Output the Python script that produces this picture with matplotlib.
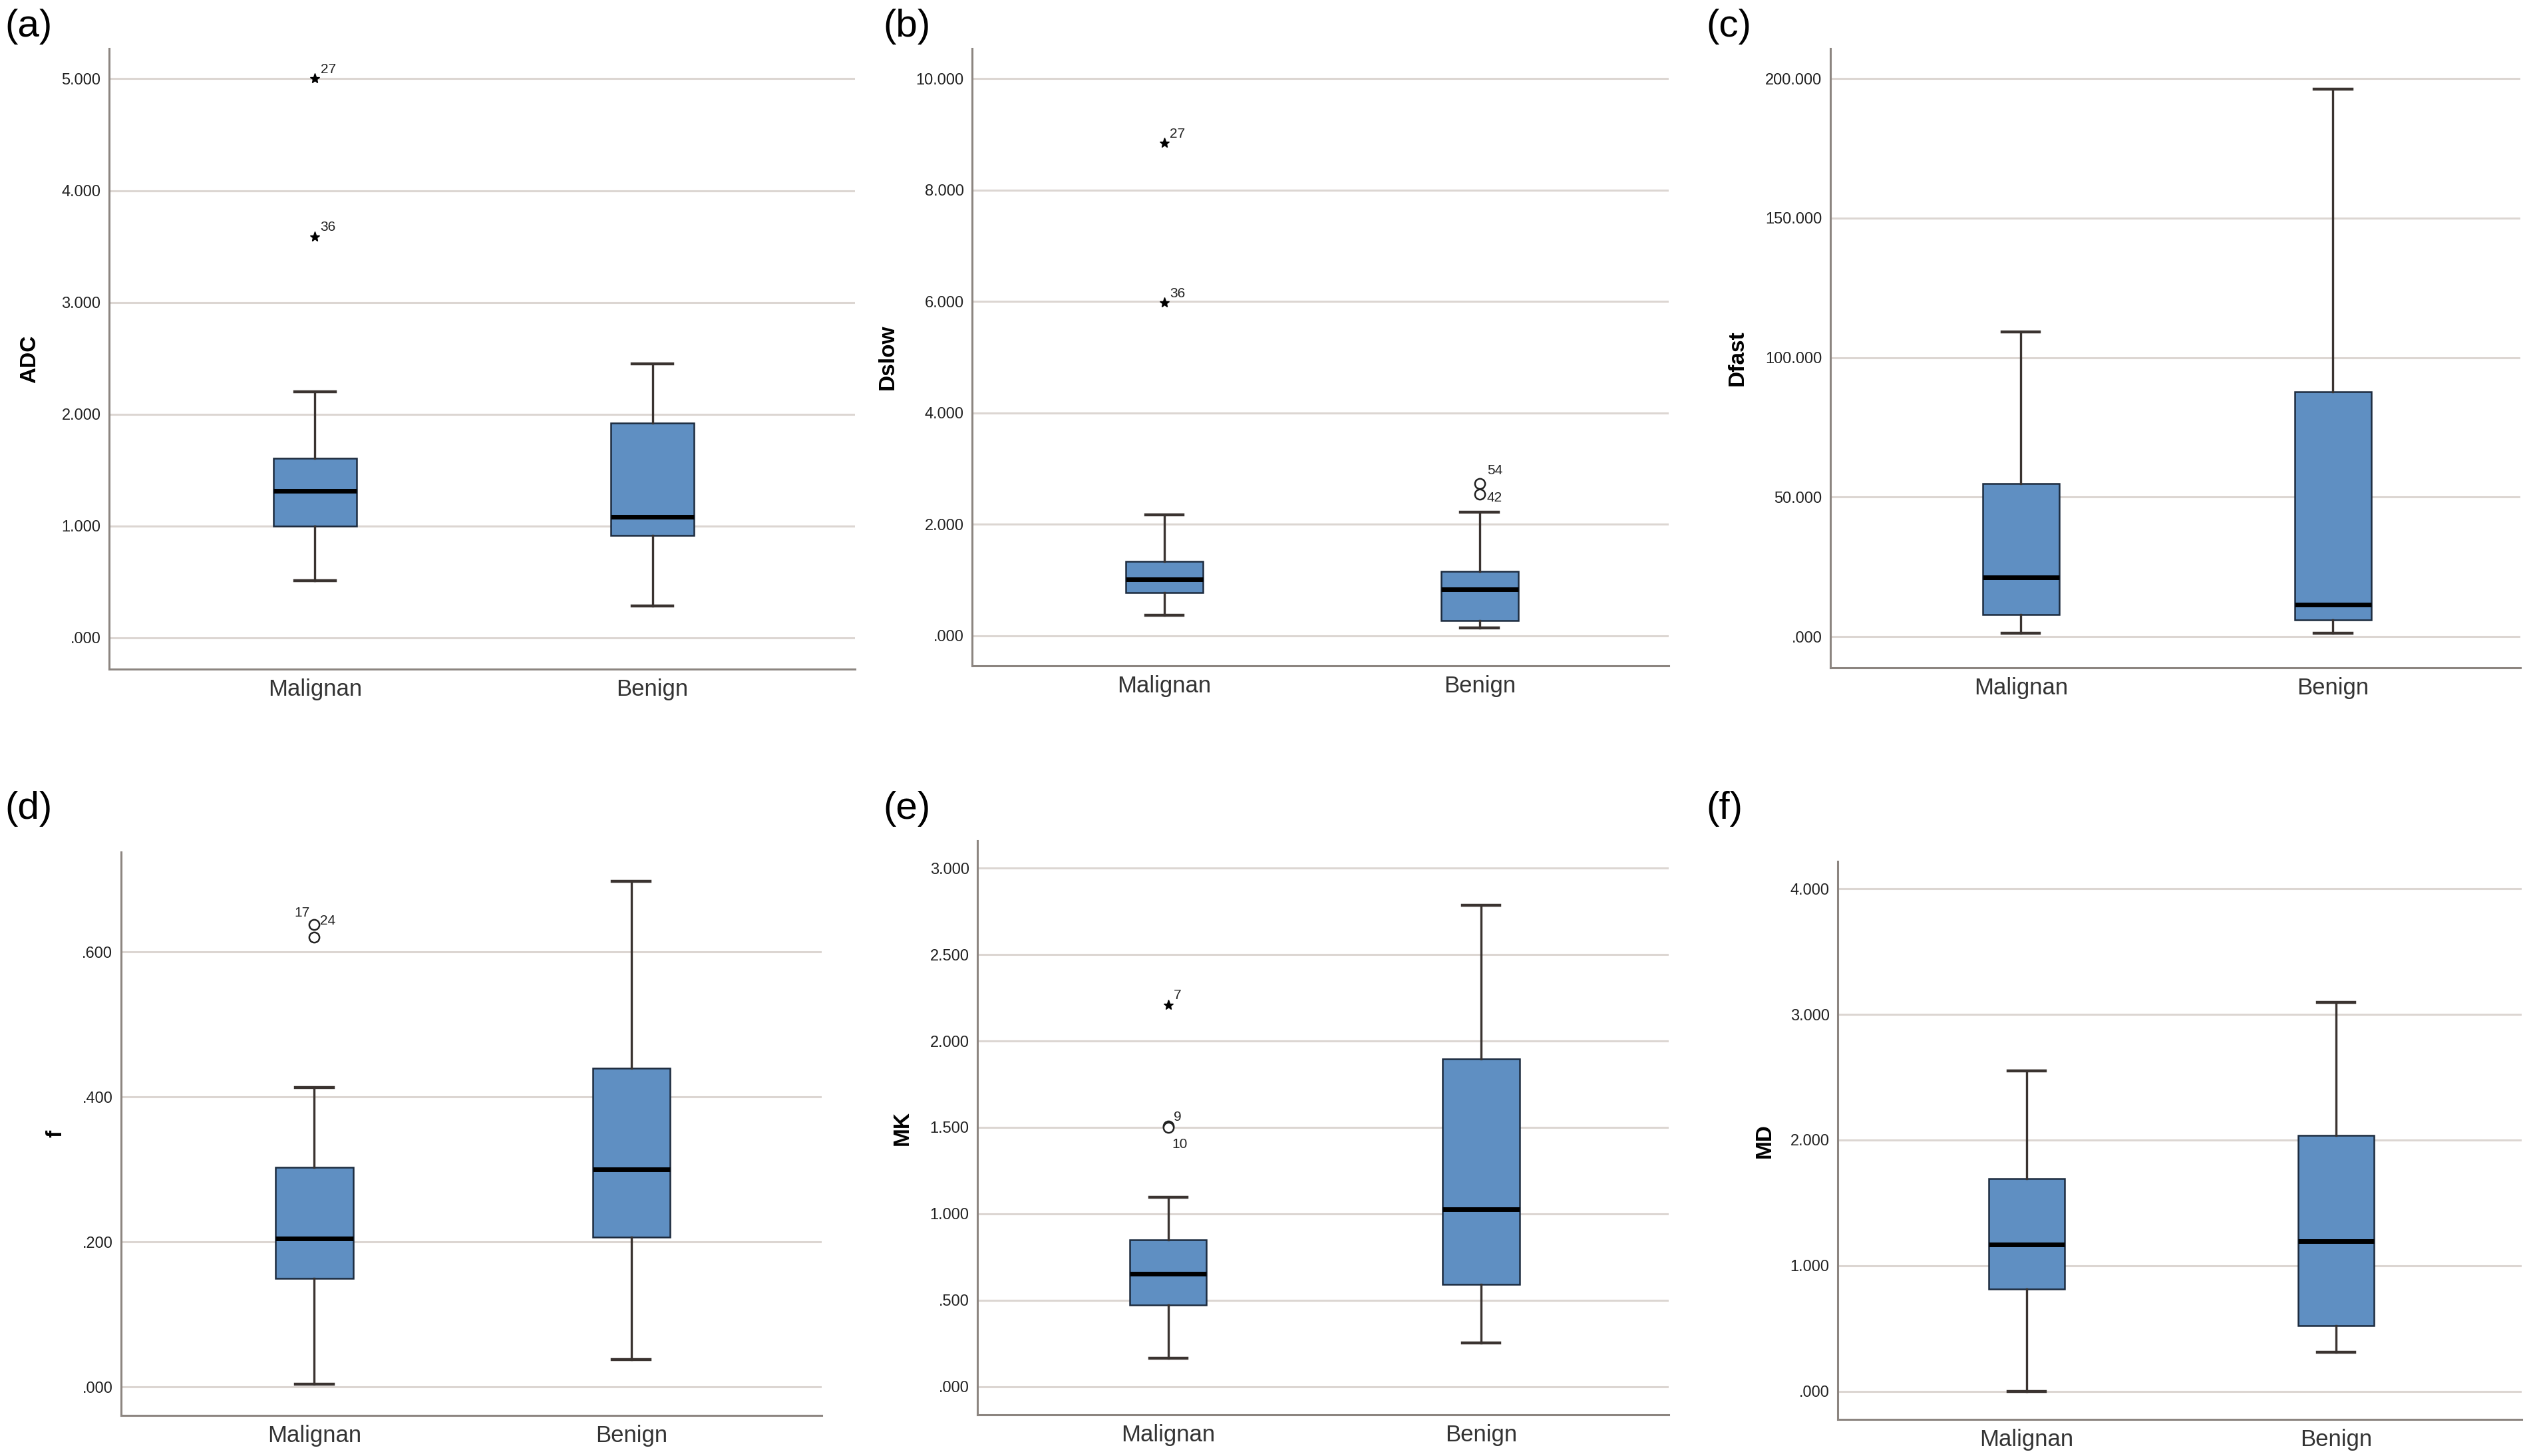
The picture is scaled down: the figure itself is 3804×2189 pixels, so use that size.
import matplotlib
matplotlib.use('Agg')
import matplotlib.pyplot as plt
from matplotlib.ticker import FuncFormatter

plt.rcParams['font.family'] = ['Liberation Sans', 'DejaVu Sans']

groups = ['Malignan', 'Benign']

# box stats per panel: [whislo, q1, med, q3, whishi] for Malignan and Benign
adc_mal = [0.514, 1.000, 1.317, 1.605, 2.200]
adc_ben = [0.288, 0.918, 1.082, 1.922, 2.453]
dslow_mal = [0.372, 0.769, 1.017, 1.339, 2.165]
dslow_ben = [0.140, 0.273, 0.835, 1.157, 2.215]
dfast_mal = [1.2, 7.8, 21.3, 54.8, 109.2]
dfast_ben = [1.2, 6.1, 11.4, 87.8, 196.2]
f_mal = [0.004, 0.150, 0.205, 0.303, 0.413]
f_ben = [0.038, 0.207, 0.300, 0.440, 0.698]
mk_mal = [0.163, 0.474, 0.654, 0.849, 1.094]
mk_ben = [0.253, 0.593, 1.028, 1.898, 2.786]
md_mal = [0.000, 0.812, 1.168, 1.690, 2.550]
md_ben = [0.312, 0.522, 1.197, 2.034, 3.097]

# outliers: (group index, value, marker, case label)
adc_out = [(0, 5.000, '*', '27'), (0, 3.590, '*', '36')]
dslow_out = [(0, 8.840, '*', '27'), (0, 5.975, '*', '36'),
             (1, 2.730, 'o', '54'), (1, 2.545, 'o', '42')]
dfast_out = []
f_out = [(0, 0.638, 'o', '24'), (0, 0.621, 'o', '17')]
mk_out = [(0, 2.209, '*', '7'), (0, 1.508, 'o', '9'), (0, 1.500, 'o', '10')]
md_out = []

panels = [
    ('(a)', 'ADC', adc_mal, adc_ben, adc_out, [0, 1, 2, 3, 4, 5], (-0.28, 5.27)),
    ('(b)', 'Dslow', dslow_mal, dslow_ben, dslow_out, [0, 2, 4, 6, 8, 10], (-0.54, 10.54)),
    ('(c)', 'Dfast', dfast_mal, dfast_ben, dfast_out, [0, 50, 100, 150, 200], (-11.2, 210.7)),
    ('(d)', 'f', f_mal, f_ben, f_out, [0, 0.2, 0.4, 0.6], (-0.039, 0.738)),
    ('(e)', 'MK', mk_mal, mk_ben, mk_out, [0, 0.5, 1, 1.5, 2, 2.5, 3], (-0.163, 3.158)),
    ('(f)', 'MD', md_mal, md_ben, md_out, [0, 1, 2, 3, 4], (-0.225, 4.218)),
]

# axes rectangles in figure fraction, and label offsets
rects = [
    [0.0431, 0.5404, 0.2947, 0.4262],
    [0.3841, 0.5427, 0.2752, 0.4239],
    [0.7232, 0.5413, 0.2726, 0.4253],
    [0.0478, 0.0279, 0.2768, 0.3869],
    [0.3862, 0.0283, 0.2731, 0.3942],
    [0.7261, 0.0251, 0.2702, 0.3833],
]
ylab_x = [-0.093, -0.106, -0.120, -0.078, -0.094, -0.092]
tag_xy = [(0.002, 0.994), (0.349, 0.994), (0.674, 0.994),
          (0.002, 0.457), (0.349, 0.457), (0.674, 0.457)]

# label offsets (points) for outlier case numbers
lab_off = {
    '27': (6, 6), '36': (6, 6), '54': (8, 10), '42': (8, -8),
    '24': (6, 0), '17': (-22, 22), '7': (6, 6), '9': (6, 6), '10': (4, -22),
}

box_color = '#5f8fc2'
edge_color = '#1c2b3e'
line_color = '#3a3330'
grid_color = '#dcd6d2'
spine_color = '#8c8580'


def spss_fmt(v, pos):
    s = '%.3f' % v
    if s.startswith('0.'):
        s = s[1:]
    return s


fig = plt.figure(figsize=(38.04, 21.89), dpi=100)
fig.patch.set_facecolor('white')

for i, (tag, name, mal, ben, outs, ticks, ylim) in enumerate(panels):
    ax = fig.add_axes(rects[i])
    stats = []
    for g, s in zip(groups, [mal, ben]):
        stats.append({'label': g, 'whislo': s[0], 'q1': s[1], 'med': s[2],
                      'q3': s[3], 'whishi': s[4], 'fliers': []})
    ax.bxp(stats, positions=[0, 1], widths=0.245, patch_artist=True,
           showfliers=False,
           boxprops=dict(facecolor=box_color, edgecolor=edge_color, linewidth=1.8),
           medianprops=dict(color='black', linewidth=5),
           whiskerprops=dict(color=line_color, linewidth=2.4),
           capprops=dict(color=line_color, linewidth=3.2),
           capwidths=0.12)
    for gi, val, mk, lab in outs:
        if mk == '*':
            ax.plot(gi, val, marker='*', color='black', markersize=11, zorder=5)
        else:
            ax.plot(gi, val, marker='o', markerfacecolor='white',
                    markeredgecolor='#222222', markeredgewidth=1.8,
                    markersize=11, zorder=5)
        ax.annotate(lab, (gi, val), xytext=lab_off[lab], textcoords='offset points',
                    fontsize=15, color='#222222')

    ax.set_xlim(-0.61, 1.60)
    ax.set_ylim(*ylim)
    ax.set_yticks(ticks)
    ax.yaxis.set_major_formatter(FuncFormatter(spss_fmt))
    ax.yaxis.grid(True, color=grid_color, linewidth=2.2)
    ax.set_axisbelow(True)
    ax.tick_params(axis='y', length=0, pad=9, labelsize=17, labelcolor='#222222')
    ax.tick_params(axis='x', length=0, pad=10, labelsize=25, labelcolor='#333333')
    for sp in ['top', 'right']:
        ax.spines[sp].set_visible(False)
    for sp in ['left', 'bottom']:
        ax.spines[sp].set_color(spine_color)
        ax.spines[sp].set_linewidth(2.2)
    ax.set_ylabel(name, fontsize=24, fontweight='bold')
    ax.yaxis.set_label_coords(ylab_x[i], 0.5)
    fig.text(tag_xy[i][0], tag_xy[i][1], tag, fontsize=42, ha='left', va='top')

fig.savefig('out.png', dpi=100, facecolor='white')
